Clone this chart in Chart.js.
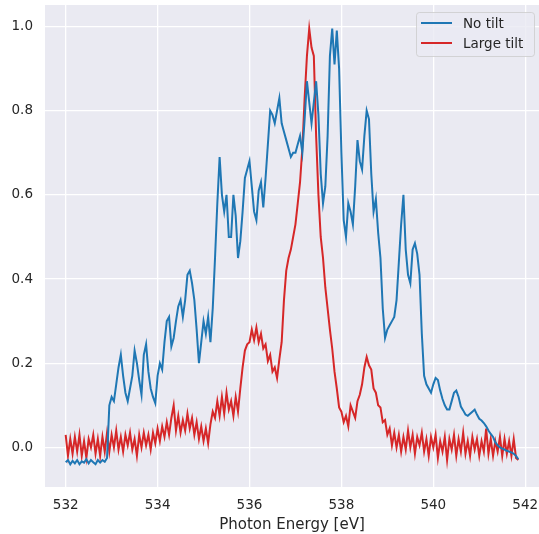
<!DOCTYPE html>
<html>
<head>
<meta charset="utf-8">
<script src="https://cdn.jsdelivr.net/npm/chart.js@4.4.0/dist/chart.umd.min.js"></script>
<style>
  html, body { margin: 0; padding: 0; background: #ffffff; }
  #wrap { width: 539px; height: 534px; }
</style>
</head>
<body>
<div id="wrap"><canvas id="spectrum" width="539" height="534"></canvas></div>
<script>
// measurement grid (photon energy, eV)
const energyStart = 532.0;
const energyStep = 0.05;

const xTicks = [532, 534, 536, 538, 540, 542];
const yTicks = [0.0, 0.2, 0.4, 0.6, 0.8, 1.0];

const seriesLabels = ['No tilt', 'Large tilt'];

// normalised intensity
const noTilt = [
  -0.035, -0.03, -0.04, -0.032, -0.038, -0.03, -0.04, -0.033, -0.036, -0.028,
  -0.038, -0.03, -0.035, -0.04, -0.03, -0.036, -0.03, -0.034, -0.025, 0.10,
  0.12, 0.11, 0.15, 0.19, 0.22, 0.17, 0.13, 0.11, 0.14, 0.17,
  0.23, 0.20, 0.16, 0.125, 0.22, 0.245, 0.18, 0.14, 0.12, 0.105,
  0.17, 0.20, 0.185, 0.25, 0.30, 0.31, 0.24, 0.26, 0.30, 0.335,
  0.35, 0.31, 0.35, 0.41, 0.42, 0.39, 0.35, 0.28, 0.20, 0.25,
  0.30, 0.27, 0.31, 0.25, 0.33, 0.45, 0.58, 0.69, 0.60, 0.56,
  0.60, 0.50, 0.50, 0.60, 0.55, 0.45, 0.49, 0.56, 0.64, 0.66,
  0.68, 0.62, 0.56, 0.54, 0.61, 0.63, 0.57, 0.64, 0.72, 0.80,
  0.79, 0.77, 0.80, 0.83, 0.77, 0.75, 0.73, 0.71, 0.69, 0.70,
  0.70, 0.72, 0.74, 0.70, 0.78, 0.87, 0.82, 0.77, 0.82, 0.87,
  0.79, 0.65, 0.58, 0.62, 0.74, 0.93, 0.995, 0.91, 0.99, 0.90,
  0.70, 0.54, 0.50, 0.58, 0.56, 0.53, 0.62, 0.73, 0.68, 0.66,
  0.74, 0.80, 0.78, 0.65, 0.56, 0.59, 0.51, 0.45, 0.33, 0.26,
  0.28, 0.29, 0.30, 0.31, 0.35, 0.44, 0.53, 0.60, 0.47, 0.41,
  0.39, 0.47, 0.485, 0.46, 0.41, 0.27, 0.17, 0.15, 0.14, 0.13,
  0.15, 0.165, 0.16, 0.135, 0.115, 0.10, 0.09, 0.09, 0.11, 0.13,
  0.135, 0.12, 0.097, 0.088, 0.078, 0.075, 0.08, 0.085, 0.09, 0.078,
  0.068, 0.064, 0.058, 0.05, 0.04, 0.032, 0.025, 0.012, 0.005, 0.0,
  -0.003, -0.005, -0.008, -0.01, -0.012, -0.015, -0.02, -0.028
];

const largeTilt = [
  0.03, -0.02, 0.02, -0.015, 0.025, -0.01, 0.03, -0.02, 0.015, -0.025,
  0.02, 0.0, 0.03, -0.015, 0.02, -0.02, 0.025, -0.01, 0.035, -0.01,
  0.03, 0.0, 0.04, -0.005, 0.025, -0.01, 0.03, 0.005, 0.035, -0.005,
  0.02, -0.02, 0.03, 0.0, 0.035, 0.005, 0.03, -0.005, 0.035, 0.01,
  0.045, 0.015, 0.05, 0.025, 0.06, 0.03, 0.07, 0.1, 0.04, 0.075,
  0.035, 0.065, 0.04, 0.08, 0.045, 0.07, 0.03, 0.06, 0.02, 0.05,
  0.015, 0.045, 0.01, 0.055, 0.085, 0.07, 0.11, 0.075, 0.12, 0.08,
  0.13, 0.09, 0.11, 0.075, 0.12, 0.085, 0.14, 0.19, 0.23, 0.245,
  0.25, 0.28, 0.255, 0.285, 0.25, 0.27, 0.235, 0.245, 0.205, 0.22,
  0.18, 0.19, 0.165, 0.21, 0.25, 0.35, 0.42, 0.45, 0.47, 0.50,
  0.53, 0.58, 0.63, 0.71, 0.83, 0.93, 0.995, 0.95, 0.93, 0.74,
  0.60, 0.50, 0.45, 0.38, 0.33, 0.28, 0.235, 0.18, 0.14, 0.095,
  0.085, 0.06, 0.075, 0.05, 0.10, 0.085, 0.07, 0.11, 0.125, 0.15,
  0.19, 0.215, 0.195, 0.185, 0.14, 0.13, 0.10, 0.095, 0.06, 0.065,
  0.03, 0.045, 0.005, 0.035, 0.0, 0.03, -0.01, 0.025, -0.005, 0.04,
  0.0, 0.03, -0.015, 0.025, 0.005, 0.035, -0.01, 0.02, -0.02, 0.025,
  0.0, 0.03, -0.025, 0.015, -0.01, 0.025, -0.03, 0.02, -0.005, 0.03,
  -0.02, 0.02, -0.01, 0.035, -0.015, 0.015, -0.02, 0.025, -0.005, 0.02,
  -0.02, 0.015, -0.01, 0.045, -0.015, 0.02, -0.02, 0.015, -0.01, 0.025,
  -0.02, 0.02, -0.015, 0.015, -0.02, 0.02, -0.025, -0.03
];

const FONT = 'DejaVu Sans';
const TEXT_COLOR = '#262626';

function toPoints(values) {
  return values.map((v, i) => ({ x: energyStart + i * energyStep, y: v }));
}

// seaborn-ish plot background
const plotBackground = {
  id: 'plotBackground',
  beforeDraw(chart) {
    const { ctx, chartArea: a } = chart;
    ctx.save();
    ctx.fillStyle = '#EAEAF2';
    ctx.fillRect(a.left, a.top, a.right - a.left, a.bottom - a.top);
    ctx.restore();
  }
};

// matplotlib style legend inside the axes, upper right
const innerLegend = {
  id: 'innerLegend',
  afterDraw(chart) {
    const { ctx } = chart;
    const x = 416, y = 12, w = 118, h = 44;
    ctx.save();
    ctx.beginPath();
    ctx.roundRect(x + 0.5, y + 0.5, w, h, 3);
    ctx.fillStyle = 'rgba(234,234,242,0.8)';
    ctx.fill();
    ctx.strokeStyle = 'rgba(204,204,204,0.8)';
    ctx.lineWidth = 1;
    ctx.stroke();
    chart.data.datasets.forEach((ds, i) => {
      const ly = y + 11 + i * 20;
      ctx.beginPath();
      ctx.moveTo(x + 5, ly);
      ctx.lineTo(x + 36, ly);
      ctx.strokeStyle = ds.borderColor;
      ctx.lineWidth = 2;
      ctx.stroke();
      ctx.fillStyle = TEXT_COLOR;
      ctx.font = '13.5px "' + FONT + '"';
      ctx.textBaseline = 'middle';
      ctx.fillText(ds.label, x + 47, ly + 1);
    });
    ctx.restore();
  }
};

new Chart(document.getElementById('spectrum'), {
  type: 'line',
  data: {
    datasets: [
      {
        label: seriesLabels[0],
        data: toPoints(noTilt),
        borderColor: '#1f77b4',
        borderWidth: 2,
        pointRadius: 0,
        tension: 0
      },
      {
        label: seriesLabels[1],
        data: toPoints(largeTilt),
        borderColor: '#d62728',
        borderWidth: 2,
        pointRadius: 0,
        tension: 0
      }
    ]
  },
  options: {
    responsive: false,
    animation: false,
    layout: { padding: { top: 5, right: 0, left: 0, bottom: 0 } },
    plugins: {
      legend: { display: false },
      tooltip: { enabled: false }
    },
    scales: {
      x: {
        type: 'linear',
        min: 531.55,
        max: 542.3,
        afterBuildTicks: (scale) => { scale.ticks = xTicks.map(v => ({ value: v })); },
        afterFit: (scale) => {
          scale.height = 47;
          scale.paddingLeft = 0;
          scale.paddingRight = 0;
        },
        grid: { color: '#ffffff', lineWidth: 1.3, drawTicks: false },
        border: { display: false },
        ticks: {
          color: TEXT_COLOR,
          font: { family: FONT, size: 13.5 },
          padding: 10,
          maxRotation: 0,
          callback: (v) => String(v)
        },
        title: {
          display: true,
          text: 'Photon Energy [eV]',
          color: TEXT_COLOR,
          font: { family: FONT, size: 15 },
          padding: { top: 0, bottom: 0 }
        }
      },
      y: {
        type: 'linear',
        min: -0.094,
        max: 1.051,
        afterBuildTicks: (scale) => { scale.ticks = yTicks.map(v => ({ value: v })); },
        afterFit: (scale) => {
          scale.width = 45;
          scale.paddingTop = 0;
          scale.paddingBottom = 0;
        },
        grid: { color: '#ffffff', lineWidth: 1.3, drawTicks: false },
        border: { display: false },
        ticks: {
          color: TEXT_COLOR,
          font: { family: FONT, size: 13.5 },
          padding: 12,
          callback: (v) => Number(v).toFixed(1)
        }
      }
    }
  },
  plugins: [plotBackground, innerLegend]
});
</script>
</body>
</html>
